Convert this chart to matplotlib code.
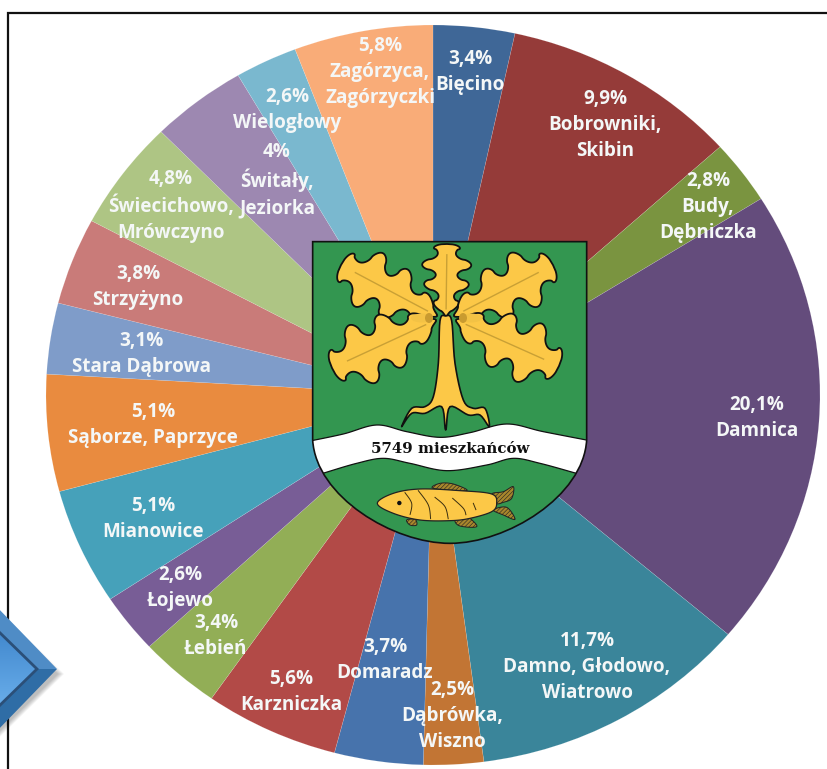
import numpy as np
import matplotlib
matplotlib.use('Agg')
import matplotlib.pyplot as plt
from matplotlib.colors import LinearSegmentedColormap
from matplotlib.patches import PathPatch, Polygon, Ellipse, Circle
from matplotlib.path import Path

# data, clockwise from the top
shares = [3.4, 9.9, 2.8, 20.1, 11.7, 2.5, 3.7, 5.6, 3.4, 2.6, 5.1, 5.1, 3.1, 3.8, 4.8, 4.0, 2.6, 5.8]
pct_labels = ['3,4%', '9,9%', '2,8%', '20,1%', '11,7%', '2,5%', '3,7%', '5,6%', '3,4%', '2,6%',
              '5,1%', '5,1%', '3,1%', '3,8%', '4,8%', '4%', '2,6%', '5,8%']
names = ['Bięcino', 'Bobrowniki,\nSkibin', 'Budy,\nDębniczka', 'Damnica', 'Damno, Głodowo,\nWiatrowo',
         'Dąbrówka,\nWiszno', 'Domaradz', 'Karzniczka', 'Łebień', 'Łojewo', 'Mianowice', 'Sąborze, Paprzyce',
         'Stara Dąbrowa', 'Strzyżyno', 'Świecichowo,\nMrówczyno', 'Świtały,\nJeziorka', 'Wielogłowy',
         'Zagórzyca,\nZagórzyczki']
colors = ['#3F6797', '#953B39', '#7A9440', '#644C7C', '#3A859A', '#C27534', '#4773AC', '#B24A47', '#92AE56',
          '#785D96', '#46A1BA', '#E98B3F', '#7F9CC9', '#C97B79', '#AEC584', '#9D88B1', '#7AB8CF', '#F9AC78']
# label centres in pixels
label_x = [470, 605, 708, 757, 587, 452, 385, 291, 216, 180, 153, 153, 141, 138, 171, 277, 287, 380]
label_y = [72, 125, 207, 418, 667, 716, 660, 692, 636, 588, 519, 425, 354, 287, 206, 180, 110, 72]

W, H = 827, 769
GOLD = '#FCC847'
GREEN = '#339650'

plt.rcParams['hatch.linewidth'] = 0.4

fig = plt.figure(figsize=(W / 100, H / 100), dpi=100)

# the pie is stretched a bit wider than tall, like in the original
ax = fig.add_axes([46 / W, (H - 765) / H, 774 / W, 740 / H])
ax.pie(shares, colors=colors, startangle=90, counterclock=False,
       wedgeprops=dict(linewidth=0.3, edgecolor=(1, 1, 1, 0.25)))
ax.set_aspect('auto')
ax.set_xlim(-1, 1)
ax.set_ylim(-1, 1)

# overlay in pixel coordinates
ov = fig.add_axes([0, 0, 1, 1])
ov.set_xlim(0, W)
ov.set_ylim(H, 0)
ov.axis('off')
ov.patch.set_alpha(0)


def smooth(pts, closed=True, n=12):
    # catmull-rom through the points
    p = np.array(pts, dtype=float)
    if closed:
        p = np.vstack([p[-1], p, p[0], p[1]])
    else:
        p = np.vstack([p[0], p, p[-1]])
    out = []
    for i in range(1, len(p) - 2):
        for t in np.linspace(0, 1, n, endpoint=False):
            out.append(0.5 * (2 * p[i] + (p[i + 1] - p[i - 1]) * t
                              + (2 * p[i - 1] - 5 * p[i] + 4 * p[i + 1] - p[i + 2]) * t ** 2
                              + (3 * p[i] - p[i - 1] - 3 * p[i + 1] + p[i + 2]) * t ** 3))
    return np.array(out)


def z(pts):
    # shield zoom coords to pixels
    return [(300 + x / 3, 230 + y / 3) for x, y in pts]


def zf(pts):
    # fish zoom coords to pixels
    return [(360 + x / 3, 470 + y / 3) for x, y in pts]


def leaf(base, tip, half, lobes=3.5):
    base, tip = np.array(base, float), np.array(tip, float)
    d = tip - base
    nrm = np.array([-d[1], d[0]]) / np.hypot(*d)
    t = np.linspace(0, 1, 240)
    env = half * np.sin(np.pi * t) ** 0.4 * (0.3 + 0.7 * t ** 0.6)
    c = np.cos(2 * np.pi * lobes * (1 - t))
    w = env * (0.72 + 0.28 * np.sign(c) * np.abs(c) ** 0.6)
    a = base + np.outer(t, d) + np.outer(w, nrm)
    b = base + np.outer(t, d) - np.outer(w, nrm)
    ov.add_patch(Polygon(np.vstack([a, b[::-1]]), closed=True, fc=GOLD, ec='#111111', lw=1.3, zorder=5))
    ov.plot([base[0] + d[0] * .1, base[0] + d[0] * .85], [base[1] + d[1] * .1, base[1] + d[1] * .85],
            color='#C9A035', lw=1, zorder=6)


# frame
ov.plot([8, 8, W], [H, 13, 13], color='#111111', lw=1.6, zorder=1, solid_joinstyle='miter')

# arrow at the lower left, cut by the picture edge
for k in range(7):
    ov.add_patch(Polygon([(-40, 572 + 2 * k), (64 - k, 674), (-40, 776 - k)], closed=True,
                         fc='black', alpha=0.04, ec='none', zorder=2))
ov.add_patch(Polygon([(-5, 605), (57, 669), (37, 669), (-5, 628)], closed=True, fc='#4F8CC6', ec='none', zorder=3))
ov.add_patch(Polygon([(-5, 733), (57, 669), (37, 669), (-5, 710)], closed=True, fc='#2F6DA6', ec='none', zorder=3))
arrow_in = Polygon([(-5, 628), (37, 669), (-5, 710)], closed=True, fc='none', ec='#2B4F78', lw=2, zorder=4)
ov.add_patch(arrow_in)
grad = ov.imshow(np.linspace(0, 1, 60).reshape(-1, 1), extent=(-5, 40, 712, 626),
                 cmap=LinearSegmentedColormap.from_list('a', ['#3F86CC', '#6CB0EC']), aspect='auto', zorder=3.5)
grad.set_clip_path(arrow_in)
ov.set_xlim(0, W)
ov.set_ylim(H, 0)

# shield
sx = lambda v: 300 + v / 3
sy = lambda v: 230 + v / 3
shield_path = Path(
    [(sx(38), sy(35)), (sx(860), sy(35)), (sx(860), sy(630)),
     (sx(850), sy(800)), (sx(620), sy(940)), (sx(450), sy(940)),
     (sx(280), sy(940)), (sx(48), sy(800)), (sx(38), sy(630)), (sx(38), sy(35))],
    [Path.MOVETO, Path.LINETO, Path.LINETO, Path.CURVE4, Path.CURVE4, Path.CURVE4,
     Path.CURVE4, Path.CURVE4, Path.CURVE4, Path.CLOSEPOLY])
shield = PathPatch(shield_path, fc=GREEN, ec='none', zorder=4)
ov.add_patch(shield)

# river band
top = smooth(z([(20, 635), (130, 612), (230, 585), (320, 605), (420, 622), (510, 608), (620, 582), (730, 605), (880, 634)]), closed=False)
bot = smooth(z([(20, 745), (75, 728), (170, 700), (250, 685), (330, 700), (440, 722), (560, 705), (640, 685), (720, 700), (822, 728), (880, 745)]), closed=False)
river = Polygon(np.vstack([top, bot[::-1]]), closed=True, fc='white', ec='#111111', lw=0.9, zorder=4.5)
ov.add_patch(river)
river.set_clip_path(shield)
ov.add_patch(PathPatch(shield_path, fc='none', ec='#111111', lw=1.2, zorder=4.7))
ov.text(450, 449, '5749 mieszkańców', family='DejaVu Serif', weight='bold', fontsize=10.8,
        color='#111111', ha='center', va='center', zorder=8)

# oak leaves and trunk
leaf((446, 316), (447, 244), 31)
leaf((437, 316), (341, 265), 38)
leaf((454, 316), (553, 265), 38)
leaf((436, 320), (332, 368), 40)
leaf((456, 320), (559, 366), 40)

# acorns
for cx, cup in ((422, 429), (471, 463)):
    ov.add_patch(Ellipse((cx, 318), 22, 9, fc='#F3C245', ec='none', zorder=6.5))
    ov.add_patch(Ellipse((cup, 318), 8, 10, fc='#C99B30', ec='none', zorder=6.6))

trunk = z([(420, 272), (437, 258), (455, 272), (465, 400), (490, 510), (520, 535), (555, 535), (568, 590),
           (540, 555), (505, 555), (450, 530), (437, 600), (425, 530), (375, 550), (335, 550), (305, 590),
           (335, 535), (375, 530), (400, 500), (415, 400)])
ov.add_patch(Polygon(smooth(trunk, n=6), closed=True, fc=GOLD, ec='#111111', lw=1.2, joinstyle='round', zorder=7))

# fish
FIN = '#A8862C'
fins = [[(395, 72), (430, 65), (460, 50), (455, 85), (430, 97), (408, 100)],
        [(400, 120), (440, 112), (465, 148), (430, 135)],
        [(220, 55), (240, 40), (280, 42), (320, 62)],
        [(285, 150), (310, 135), (330, 145), (350, 170), (300, 168)],
        [(140, 150), (165, 148), (170, 165), (150, 165)]]
for f in fins:
    ov.add_patch(Polygon(smooth(zf(f)), closed=True, fc=FIN, ec='#222222', lw=0.7, hatch='////////', zorder=5))
body = zf([(52, 100), (100, 70), (180, 57), (300, 62), (395, 72), (410, 100), (395, 125), (330, 145),
           (270, 152), (180, 150), (100, 130)])
ov.add_patch(Polygon(smooth(body), closed=True, fc=GOLD, ec='#222222', lw=0.9, zorder=6))
ov.add_patch(Circle(zf([(118, 99)])[0], 2.2, fc='#111111', ec='none', zorder=7))
scales = [[(135, 68), (155, 100), (150, 135)], [(175, 62), (205, 105), (212, 148)],
          [(225, 82), (255, 110), (265, 148)], [(278, 85), (310, 115), (318, 135)], [(340, 100), (348, 120)]]
for s in scales:
    c = smooth(zf(s), closed=False)
    ov.plot(c[:, 0], c[:, 1], color='#3A2E10', lw=0.7, zorder=7)

# labels
for name, pct, x, y in zip(names, pct_labels, label_x, label_y):
    ov.text(x, y, pct + '\n' + name, family='Open Sans', weight='bold', fontsize=13.6, color='#F4F7F7',
            ha='center', va='center', linespacing=1.38, zorder=9)

fig.savefig('out.png', dpi=100)
